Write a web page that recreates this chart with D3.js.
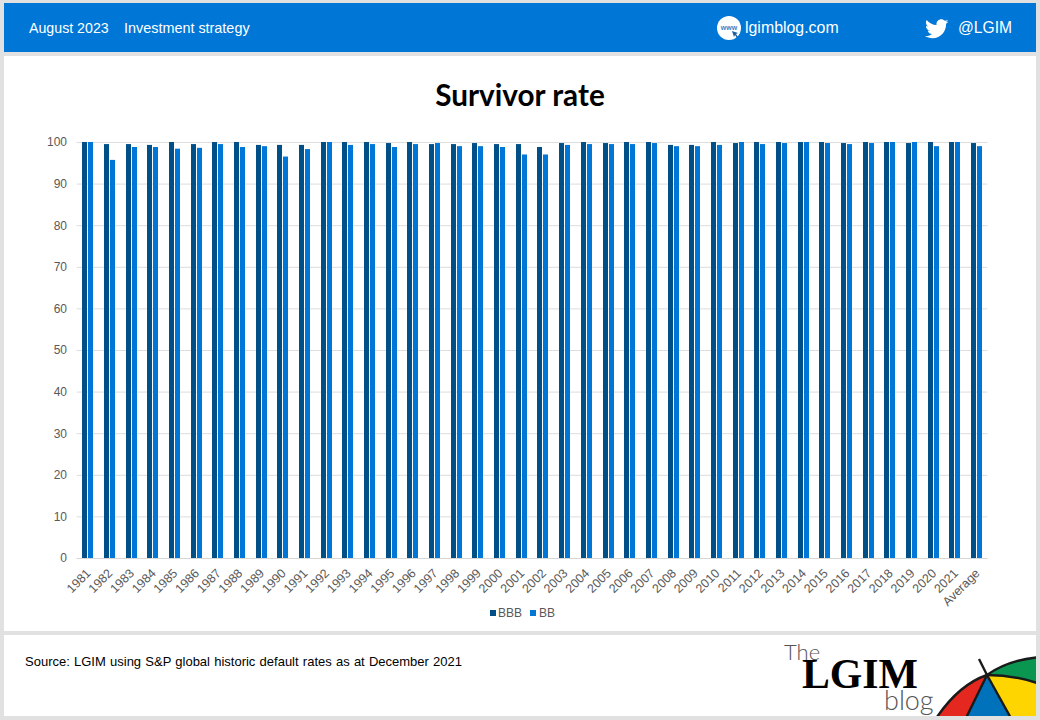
<!DOCTYPE html>
<html>
<head>
<meta charset="utf-8">
<script src="https://cdn.jsdelivr.net/npm/d3@7/dist/d3.min.js"></script>
<style>
html,body{margin:0;padding:0;background:#fff;overflow:hidden}
svg{display:block}
text{font-family:"Liberation Sans",Arial,sans-serif}
</style>
</head>
<body>
<svg id="c" width="1040" height="720"></svg>
<script>
const categories = ["1981","1982","1983","1984","1985","1986","1987","1988","1989","1990","1991","1992","1993","1994","1995","1996","1997","1998","1999","2000","2001","2002","2003","2004","2005","2006","2007","2008","2009","2010","2011","2012","2013","2014","2015","2016","2017","2018","2019","2020","2021","Average"];
const bbb = [100,99.5,99.5,99.3,100,99.5,100,100,99.3,99.3,99.3,100,100,100,99.75,100,99.5,99.5,99.75,99.5,99.5,98.8,99.75,100,99.75,100,100,99.3,99.3,100,99.75,100,100,100,100,99.75,100,100,99.75,100,100,99.75];
const bb = [100,95.7,98.8,98.8,98.4,98.6,99.5,98.8,99,96.5,98.3,100,99.3,99.5,98.8,99.5,99.75,99,99,98.8,97,97,99.3,99.5,99.5,99.5,99.75,99,99,99.3,100,99.5,99.75,100,99.75,99.5,99.75,100,100,99,100,99];
const seriesNames = ["BBB","BB"];
const seriesColors = ["#004f86","#0076d6"];
const yTicks = [0,10,20,30,40,50,60,70,80,90,100];

const svg = d3.select("#c");
svg.append("rect").attr("width",1040).attr("height",720).attr("fill","#e1e1e1");
svg.append("rect").attr("x",4).attr("y",3).attr("width",1032).attr("height",49).attr("fill","#0076d6");
svg.append("rect").attr("x",4).attr("y",56).attr("width",1032).attr("height",575).attr("fill","#fff");
svg.append("rect").attr("x",4).attr("y",635).attr("width",1032).attr("height",81).attr("fill","#fff");

// header
const hdr = (x,t,size)=>svg.append("text").attr("x",x).attr("y",33).attr("fill","#fff").attr("font-size",size).text(t);
hdr(29,"August 2023",14.2);
hdr(124,"Investment strategy",14.4);
hdr(745,"lgimblog.com",15.9);
hdr(958,"@LGIM",15.6);
svg.append("circle").attr("cx",729).attr("cy",28).attr("r",12).attr("fill","#fff");
svg.append("text").attr("x",729).attr("y",30).attr("text-anchor","middle").attr("font-size",7).attr("font-weight","bold").attr("fill","#3a7fc8").text("www");
svg.append("path").attr("d","M732 31l6 2-2 1 2 3-1 1-2-3-1 2z").attr("fill","#1f5f9f");
svg.append("path").attr("transform","translate(925,17) scale(0.98)")
  .attr("d","M24 4.6c-.9.4-1.8.7-2.8.8 1-.6 1.8-1.6 2.2-2.7-1 .6-2 1-3.1 1.2C19.3 2.8 18 2.2 16.6 2.2c-2.7 0-4.9 2.2-4.9 4.9 0 .4 0 .8.1 1.1C7.7 8 4.1 6 1.7 3c-.4.7-.7 1.6-.7 2.5 0 1.7.9 3.2 2.2 4.1-.8 0-1.6-.2-2.2-.6v.1c0 2.4 1.7 4.4 3.9 4.8-.4.1-.8.2-1.3.2-.3 0-.6 0-.9-.1.6 2 2.4 3.4 4.6 3.4-1.7 1.3-3.8 2.1-6.1 2.1-.4 0-.8 0-1.2-.1 2.2 1.4 4.8 2.2 7.5 2.2 9.1 0 14-7.5 14-14v-.6c1-.7 1.8-1.6 2.5-2.6z")
  .attr("fill","#fff");

// title
svg.append("text").attr("x",520).attr("y",105.5).attr("text-anchor","middle").attr("font-size",29.7)
  .attr("font-weight","bold").style("font-family","Lato, 'Open Sans', sans-serif").attr("fill","#000").text("Survivor rate");

// chart
const x = d3.scaleBand().domain(categories).range([76.66,987.34]).paddingInner(0).paddingOuter(0);
const y = d3.scaleLinear().domain([0,100]).range([558,142]);
const barW = 5, gap = 1;

svg.append("g").selectAll("line").data(yTicks).join("line")
  .attr("x1",76.66).attr("x2",987.34).attr("y1",d=>y(d)+.5).attr("y2",d=>y(d)+.5)
  .attr("stroke",d=>d===0?"#d6d6d6":"#dddddd").attr("stroke-width",1);

const yAxis = d3.axisLeft(y).tickValues(yTicks).tickSize(0).tickPadding(0);
const yg = svg.append("g").attr("transform","translate(67,0)").call(yAxis);
yg.select(".domain").remove();
yg.selectAll("text").attr("font-size",12).attr("fill","#595959").style("font-family",'"Liberation Sans",Arial,sans-serif');

[bbb,bb].forEach((vals,i)=>{
  svg.append("g").selectAll("rect").data(vals).join("rect")
    .attr("x",(d,k)=>Math.round(x(categories[k])+x.bandwidth()/2-barW-gap/2+0.15)+(i===0?0:barW+gap))
    .attr("y",d=>y(d))
    .attr("width",barW)
    .attr("height",d=>y(0)-y(d))
    .attr("fill",seriesColors[i]);
});

const xAxis = d3.axisBottom(x).tickSize(0).tickPadding(0);
const xg = svg.append("g").attr("transform","translate(0,558)").call(xAxis);
xg.select(".domain").remove();
xg.selectAll("text").attr("font-size",12.5).attr("fill","#595959").attr("text-anchor","end")
  .style("font-family",'"Liberation Sans",Arial,sans-serif')
  .attr("dy",null).attr("y",null)
  .attr("transform","translate(4,16) rotate(-45)");

// legend
const lx = [490,530];
const ltx = [498,539];
seriesNames.forEach((n,i)=>{
  svg.append("rect").attr("x",lx[i]).attr("y",610).attr("width",6).attr("height",6).attr("fill",seriesColors[i]);
  svg.append("text").attr("x",ltx[i]).attr("y",617).attr("font-size",12).attr("fill","#595959").text(n);
});

// footer
svg.append("text").attr("x",25).attr("y",666).attr("font-size",13).attr("word-spacing",0.6).attr("fill","#000").text("Source: LGIM using S&P global historic default rates as at December 2021");
svg.append("text").attr("x",784).attr("y",660).attr("font-size",22).attr("fill","#555").style("font-family","Lato, sans-serif").style("font-weight",300).text("The");
svg.append("text").attr("x",802).attr("y",688).attr("font-size",42).attr("font-weight","bold").attr("fill","#000").attr("textLength",116).attr("lengthAdjust","spacingAndGlyphs").style("font-family",'"Liberation Serif",serif').text("LGIM");
svg.append("text").attr("x",884).attr("y",710).attr("font-size",27).attr("fill","#555").style("font-family","Lato, sans-serif").style("font-weight",300).text("blog");

// umbrella
const defs = svg.append("defs");
defs.append("clipPath").attr("id","u").append("rect").attr("x",930).attr("y",650).attr("width",106).attr("height",66);
const ug = svg.append("g").attr("clip-path","url(#u)");
ug.append("path").attr("d","M935 720Q958 685 987 675L965 720Z").attr("fill","#e4281f");
ug.append("path").attr("d","M965 720L987 675L1012 720Z").attr("fill","#0072bc");
ug.append("path").attr("d","M987 675Q1015 675 1040 684L1040 720L1012 720Z").attr("fill","#ffd500");
ug.append("path").attr("d","M987 675Q1008 660 1040 657L1040 684Q1015 675 987 675Z").attr("fill","#0a9650");
const ribs = ["M979 659L987 675","M987 675Q958 685 935 720","M987 675L965 720","M987 675L1012 720","M987 675Q1015 675 1040 684","M987 675Q1008 660 1040 657"];
ug.selectAll("path.r").data(ribs).join("path").attr("class","r").attr("d",d=>d).attr("fill","none").attr("stroke","#1a1a1a").attr("stroke-width",2.4);
</script>
</body>
</html>
